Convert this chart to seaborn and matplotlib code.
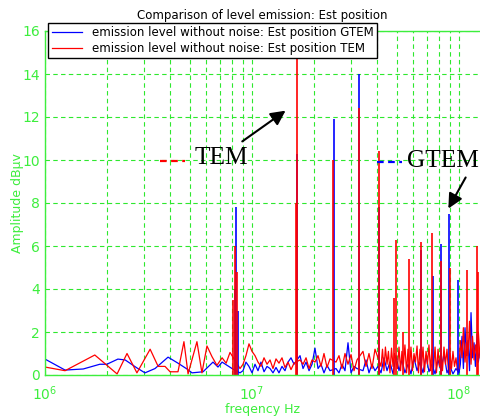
import numpy as np
import pandas as pd
import matplotlib
matplotlib.use("Agg")
import matplotlib.pyplot as plt
import seaborn as sns

# -------------------------------
# Data (frequencies in MHz, amplitudes in dBuV)
# -------------------------------

# GTEM noise floor
gtem_freq = [1.00, 1.25, 1.53, 1.84, 1.99, 2.25, 2.44, 2.78, 3.04, 3.40, 3.93, 4.39, 4.85, 5.13,
             5.80, 6.48, 6.85, 7.17, 8.01, 8.75, 9.05, 9.35, 9.67, 10.0, 10.34, 10.69, 11.05,
             11.43, 11.82, 12.22, 12.63, 13.06, 13.50, 13.96, 14.43, 14.93, 15.43, 15.96, 17.06,
             17.64, 18.24, 18.86, 19.50, 20.15, 20.84, 21.54, 22.27, 23.03, 23.81, 25.45, 26.32,
             27.21, 28.13, 29.09, 30.08, 31.10, 32.15, 34.37, 35.54, 36.74, 37.99, 39.28, 40.61,
             42.0, 43.4, 44.9, 46.4, 48.0, 49.6, 51.3, 53.0, 54.8, 56.7, 58.6, 60.6, 62.7, 64.8,
             67.0, 69.3, 71.6, 74.0, 76.6, 79.2, 81.8, 84.6, 87.5, 90.5, 93.5, 96.7, 100.0,
             101.5, 103.4, 105.0, 106.9, 108.6, 110.5, 112.4, 114.3, 116.2, 118.2, 120.0, 122.2,
             124.0, 126.3]
gtem_amp = [0.74, 0.23, 0.28, 0.50, 0.50, 0.74, 0.70, 0.33, 0.10, 0.30, 0.83, 0.55, 0.28, 0.10,
            0.15, 0.60, 0.37, 0.60, 0.30, 0.10, 0.20, 0.60, 0.40, 0.10, 0.50, 0.20, 0.60,
            0.15, 0.40, 0.30, 0.10, 0.35, 0.10, 0.40, 0.20, 0.60, 0.80, 0.50, 0.90,
            0.30, 0.60, 0.20, 0.50, 1.25, 0.30, 0.50, 0.10, 0.45, 0.20, 0.30, 0.10,
            0.50, 0.20, 1.50, 0.10, 0.40, 0.30, 0.20, 0.70, 0.10, 0.50, 0.20, 0.40,
            0.10, 0.80, 0.20, 0.60, 0.05, 0.90, 0.20, 0.70, 0.10, 0.50, 0.05, 0.80, 0.20, 0.60,
            0.10, 0.90, 0.15, 0.50, 0.05, 0.70, 0.20, 1.00, 0.10, 0.40, 0.05, 0.30, 0.10,
            0.50, 1.80, 0.30, 2.20, 0.90, 1.60, 0.20, 2.90, 0.80, 1.50, 0.40, 1.90,
            0.60, 1.20]

# TEM noise floor
tem_freq = [1.00, 1.25, 1.74, 2.23, 2.49, 2.78, 3.22, 3.52, 3.80, 4.02, 4.39, 4.69, 4.91, 5.42,
            5.73, 6.06, 6.41, 6.77, 7.17, 7.50, 7.83, 8.75, 9.05, 9.35, 9.67, 10.0, 10.34,
            10.69, 11.05, 11.43, 11.82, 12.22, 12.63, 13.06, 13.50, 13.96, 14.43, 14.93, 15.43,
            15.96, 17.06, 17.64, 18.24, 18.86, 19.50, 20.15, 20.84, 21.54, 22.27, 23.03, 23.81,
            25.45, 26.32, 27.21, 28.13, 29.09, 30.08, 31.10, 32.15, 34.37, 35.54, 36.74, 37.99,
            39.28, 42.0, 42.7, 43.4, 44.1, 44.9, 45.6, 46.4, 47.2, 48.0, 48.8, 50.4, 51.3,
            52.2, 53.0, 53.9, 54.8, 55.8, 56.7, 57.6, 58.6, 59.6, 60.6, 61.6, 62.7, 63.7, 64.8,
            65.9, 67.0, 68.1, 69.3, 70.4, 71.6, 72.8, 74.0, 75.3, 76.6, 77.8, 79.2, 80.5, 81.8,
            83.2, 84.6, 86.0, 87.5, 89.0, 90.5, 92.0, 93.5, 95.1, 96.7, 98.3, 100.0, 101.5,
            103.4, 105.0, 106.9, 108.6, 110.5, 112.4, 114.3, 116.2, 118.2, 120.0, 122.2, 124.0,
            126.3]
tem_amp = [0.37, 0.20, 0.93, 0.05, 1.00, 0.10, 1.20, 0.40, 0.40, 0.15, 0.15, 1.55, 0.05, 1.55,
           0.10, 1.35, 0.85, 0.45, 0.80, 0.55, 1.05, 0.30, 0.50, 0.90, 1.45, 1.10, 0.90,
           0.60, 0.40, 0.80, 0.50, 0.70, 0.30, 0.75, 0.55, 0.80, 0.35, 0.60, 0.25,
           0.55, 0.70, 0.50, 0.80, 0.30, 0.70, 0.60, 0.90, 0.40, 1.00, 0.35, 0.75,
           0.60, 0.90, 0.30, 1.00, 0.50, 0.95, 0.20, 0.70, 1.10, 0.40, 1.00, 0.30,
           1.20, 0.40, 1.20, 0.20, 1.30, 0.50, 1.10, 0.10, 1.25, 0.40, 1.00, 0.30, 1.30,
           0.20, 1.10, 0.50, 1.40, 0.10, 1.20, 0.30, 1.30, 0.20, 1.00, 0.60, 1.35, 0.10, 1.20,
           0.40, 1.30, 0.15, 1.10, 0.50, 1.40, 0.20, 1.20, 0.30, 1.30, 0.10, 1.20, 0.40, 1.00,
           0.20, 1.30, 0.50, 1.20, 0.10, 1.00, 0.30, 1.10, 0.40, 0.80, 0.20, 0.30, 1.60,
           0.80, 2.20, 0.60, 1.50, 0.90, 2.50, 0.50, 1.80, 0.70, 1.40, 0.90, 2.00,
           0.80]

# emission peaks (harmonics)
gtem_peak_freq = [8.25, 8.40, 8.55, 16.5, 24.9, 32.9, 40.9, 65.2, 74.6, 81.6, 89.5, 98.5]
gtem_peak_amp = [4.0, 7.8, 3.0, 10.3, 11.9, 14.0, 7.8, 5.8, 4.6, 6.1, 7.5, 4.4]

tem_peak_freq = [8.10, 8.30, 8.45, 16.3, 16.5, 24.7, 32.9, 41.2, 48.5, 49.6, 53.6, 57.35,
                 65.5, 74.0, 81.8, 90.5, 109.3, 122.2, 123.6]
tem_peak_amp = [3.5, 6.0, 4.8, 8.0, 16.0, 10.0, 12.4, 10.4, 3.6, 6.3, 2.0, 5.4,
                6.2, 6.6, 5.3, 5.0, 4.9, 6.0, 4.8]

labels = ["emission level without noise: Est position GTEM",
          "emission level without noise: Est position TEM"]

# -------------------------------
# Build table
# -------------------------------

df = pd.concat([
    pd.DataFrame({"freq": np.array(gtem_freq) * 1e6, "amp": gtem_amp, "series": labels[0]}),
    pd.DataFrame({"freq": np.array(tem_freq) * 1e6, "amp": tem_amp, "series": labels[1]}),
])

green = "#3dee3d"
grid_green = "#2ee82e"

fig = plt.figure(figsize=(4.8, 4.17), dpi=100)
ax = fig.add_axes([45 / 480, 42 / 417, 435 / 480, 344 / 417])

sns.lineplot(data=df, x="freq", y="amp", hue="series", palette=["#0000ff", "#ff0000"],
             estimator=None, sort=True, linewidth=0.9, ax=ax, legend=True)

ax.vlines(np.array(gtem_peak_freq) * 1e6, 0, gtem_peak_amp, color="#0000ff", linewidth=1.2)
ax.vlines(np.array(tem_peak_freq) * 1e6, 0, tem_peak_amp, color="#ff0000", linewidth=1.2)

ax.set_xscale("log")
ax.set_xlim(1e6, 1.263e8)
ax.set_ylim(0, 16)
ax.set_yticks(range(0, 17, 2))

# MATLAB style green axes
for side in ["left", "bottom", "top"]:
    ax.spines[side].set_color(green)
    ax.spines[side].set_linewidth(1.0)
ax.spines["right"].set_visible(False)
ax.tick_params(colors=green, labelcolor=green, labelsize=10, length=0, which="both")
ax.tick_params(axis="x", which="major", pad=7)
ax.tick_params(axis="y", which="major", pad=3.5)
ax.tick_params(axis="x", which="minor", labelbottom=False)
ax.grid(True, which="both", axis="x", color=grid_green, linestyle=(0, (4, 3)), linewidth=0.8)
ax.grid(True, which="major", axis="y", color=grid_green, linestyle=(0, (4, 3)), linewidth=0.8)
ax.set_axisbelow(True)

ax.set_title("Comparison of level emission: Est position", fontsize=8.5, color="black", pad=9)
ax.set_xlabel("freqency Hz", color=green, fontsize=9, labelpad=0)
ax.set_ylabel("Amplitude dBµv", color=green, fontsize=9, labelpad=-1)

handles, _ = ax.get_legend_handles_labels()
leg = ax.legend(handles, labels, loc="upper left", bbox_to_anchor=(3 / 435, 1.024),
                borderaxespad=0, fontsize=8.5, frameon=True, fancybox=False, framealpha=1,
                edgecolor="black", handlelength=2.6, borderpad=0.3, labelspacing=0.2)
leg.get_frame().set_linewidth(1.0)

# -------------------------------
# Annotations
# -------------------------------

ax.text(5.3e6, 10.1, "TEM", fontsize=18.3, family="Liberation Serif", ha="left", va="center")
ax.plot([3.59e6, 4.75e6], [9.95, 9.95], color="#ff0000", linestyle=(0, (3, 2)), linewidth=1.6)
ax.annotate("", xy=(14.9e6, 12.37), xytext=(8.75e6, 10.79),
            arrowprops=dict(arrowstyle="-|>", color="black", lw=1.5, mutation_scale=22))

ax.text(56.0e6, 9.95, "GTEM", fontsize=18.3, family="Liberation Serif", ha="left", va="center",
        clip_on=False)
ax.plot([40.2e6, 53.0e6], [9.9, 9.9], color="#0000ff", linestyle=(0, (3, 2)), linewidth=1.6)
ax.annotate("", xy=(87.5e6, 7.63), xytext=(109.3e6, 9.3),
            arrowprops=dict(arrowstyle="-|>", color="black", lw=1.5, mutation_scale=22))

fig.savefig("out.png", dpi=100)
